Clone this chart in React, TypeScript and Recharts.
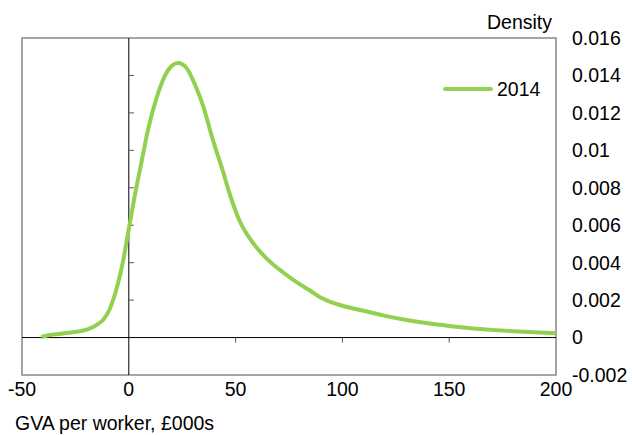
import React from "react";
import {
  Line,
  LineChart,
  ReferenceArea,
  ReferenceLine,
  XAxis,
  YAxis,
} from "recharts";

const gva = [
  -41, -37, -32, -27, -23, -19, -15, -12, -9, -6, -3, 0, 3, 6, 9, 13, 17, 20, 23,
  27, 31, 35, 39, 44, 48, 52, 56, 60, 64, 68, 72, 76, 80, 85, 90, 95, 100, 110,
  120, 130, 140, 150, 160, 170, 180, 190, 200,
];
const density2014 = [
  0.00003, 0.00014, 0.0002, 0.00027, 0.00034, 0.00045, 0.00068, 0.00095, 0.0015,
  0.0025, 0.0039, 0.0058, 0.0077, 0.0094, 0.0111, 0.0128, 0.014, 0.0145, 0.01466,
  0.0144, 0.0135, 0.0123, 0.0107, 0.0089, 0.0074, 0.0062, 0.0054, 0.00478, 0.00428,
  0.00386, 0.0035, 0.00316, 0.00285, 0.0025, 0.00212, 0.00188, 0.0017, 0.00143,
  0.00116, 0.00094, 0.00076, 0.00062, 0.0005, 0.00041, 0.00034, 0.00028, 0.00023,
];
const xTicks = [-50, 0, 50, 100, 150, 200];
const yTicks = [
  -0.002, 0, 0.002, 0.004, 0.006, 0.008, 0.01, 0.012, 0.014, 0.016,
];
const xInnerTicks = [50, 100, 150];
const yInnerTicks = [0.002, 0.004, 0.006, 0.008, 0.01, 0.012, 0.014];

const data = gva.map((x, i) => ({ x, v: density2014[i] }));

const FONT = '"Liberation Sans", Arial, sans-serif';
const GREEN = "#92d050";
const xDomain: [number, number] = [-50, 200];
const yDomain: [number, number] = [-0.002, 0.016];

function fmt(v: number) {
  if (v === 0) return "0";
  return String(Number(v.toFixed(3)));
}

export default function App() {
  return (
    <div style={{ position: "absolute", left: 0, top: 0, width: 632, height: 435, background: "#fff" }}>
      <LineChart
        width={632}
        height={435}
        data={data}
        margin={{ top: 38, left: 22, right: 6, bottom: 30 }}
        style={{ fontFamily: FONT }}
      >
        <XAxis
          dataKey="x"
          type="number"
          domain={xDomain}
          ticks={xTicks}
          allowDataOverflow
          axisLine={false}
          tickLine={false}
          tickMargin={1}
          height={30}
          tick={{ fill: "#000", fontSize: 19.5 }}
        />
        <YAxis
          orientation="right"
          type="number"
          domain={yDomain}
          ticks={yTicks}
          allowDataOverflow
          axisLine={false}
          tickLine={false}
          tickMargin={10}
          width={70}
          tickFormatter={fmt}
          tick={{ fill: "#000", fontSize: 19.5, textAnchor: "start" }}
        />
        <ReferenceArea
          x1={xDomain[0]}
          x2={xDomain[1]}
          y1={yDomain[0]}
          y2={yDomain[1]}
          fill="none"
          stroke="#888"
          strokeWidth={1.5}
        />
        <ReferenceLine x={0} stroke="#000" strokeWidth={1} />
        <ReferenceLine y={0} stroke="#000" strokeWidth={1} />
        {yInnerTicks.map((t) => (
          <ReferenceLine
            key={"y" + t}
            segment={[
              { x: 0, y: t },
              { x: 2.4, y: t },
            ]}
            stroke="#555"
          />
        ))}
        {xInnerTicks.map((t) => (
          <ReferenceLine
            key={"x" + t}
            segment={[
              { x: t, y: 0 },
              { x: t, y: -0.00027 },
            ]}
            stroke="#555"
          />
        ))}
        <Line
          dataKey="v"
          name="2014"
          type="monotone"
          stroke={GREEN}
          strokeWidth={4}
          dot={false}
          isAnimationActive={false}
        />
      </LineChart>
      <div
        style={{
          position: "absolute",
          left: 443,
          top: 77,
          display: "flex",
          alignItems: "center",
          fontFamily: FONT,
          fontSize: 19.5,
          lineHeight: "24px",
        }}
      >
        <div style={{ width: 50, height: 4, background: GREEN, borderRadius: 2, marginRight: 4 }} />
        <span>2014</span>
      </div>
      <div
        style={{
          position: "absolute",
          right: 80,
          top: 10,
          fontFamily: FONT,
          fontSize: 19.5,
          lineHeight: "24px",
        }}
      >
        Density
      </div>
      <div
        style={{
          position: "absolute",
          left: 15,
          top: 411,
          fontFamily: FONT,
          fontSize: 19.5,
          lineHeight: "24px",
        }}
      >
        GVA per worker, £000s
      </div>
    </div>
  );
}
